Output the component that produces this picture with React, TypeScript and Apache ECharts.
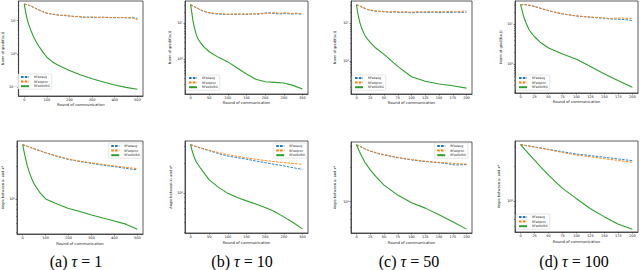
import React, { useEffect, useRef } from 'react';
import * as echarts from 'echarts';

// ---------- data ----------
const SERIES_NAMES = ['RFedavg', 'RFedprox', 'RFedSVRG'];
const TAUS = [1, 10, 50, 100];
const CAPTION_LETTERS = ['(a)', '(b)', '(c)', '(d)'];
const NORM_LABEL = 'Norm of grad(f(xₖ))';
const ANGLE_LABEL = 'Angle between xₖ and x*';
const X_LABEL = 'Round of communication';

const xTicks500 = [0, 100, 200, 300, 400, 500];
const xTicks300 = [0, 50, 100, 150, 200, 250, 300];
const xTicks200 = [0, 25, 50, 75, 100, 125, 150, 175, 200];
const yMinorTicks = [0.02, 0.03, 0.04, 0.05, 0.06, 0.07, 0.08, 0.09, 0.2, 0.3, 0.4, 0.5, 0.6, 0.7, 0.8, 0.9, 2, 3, 4, 5, 6, 7, 8, 9, 20, 30, 40, 50, 60, 70, 80, 90];

// top row, tau = 1
const t1Rounds = [0, 20, 40, 60, 80, 100, 120, 140, 160, 180, 200, 220, 240, 260, 280, 300, 320, 340, 360, 380, 400, 420, 440, 460, 480, 500];
const t1Avg = [31.6, 29, 25.5, 22, 19, 16.7, 15.8, 15, 14.6, 14.2, 13.8, 13.5, 13.2, 12.6, 12.9, 12.6, 12.4, 12.9, 12.5, 12.3, 12.6, 12.2, 12.5, 12.0, 12.3, 11.8];
const t1Prox = [31.6, 29.5, 25, 21.5, 18.6, 17.0, 16.1, 15.2, 14.4, 14.6, 14.0, 13.2, 13.6, 13.0, 12.4, 12.9, 12.7, 12.2, 12.8, 12.6, 12.2, 12.7, 12.3, 12.6, 11.9, 10.8];
const t1SvrgRounds = [0, 5, 10, 15, 20, 30, 40, 50, 60, 80, 100, 125, 150, 200, 250, 300, 350, 400, 450, 500];
const t1Svrg = [31.6, 20, 13.5, 9.8, 7.6, 5.0, 3.4, 2.5, 1.9, 1.2, 0.8, 0.58, 0.46, 0.32, 0.235, 0.18, 0.145, 0.117, 0.1, 0.088];

// top row, tau = 10
const t2Rounds = [0, 15, 30, 45, 60, 75, 90, 105, 120, 135, 150, 165, 180, 195, 210, 225, 240, 255, 270, 285, 300];
const t2Avg = [31.5, 26, 21.5, 19.2, 18.0, 17.4, 17.0, 17.2, 16.8, 17.4, 17.0, 17.6, 17.2, 18.4, 18.8, 18.0, 17.6, 18.2, 17.4, 17.8, 17.2];
const t2Prox = [31.5, 26.5, 22, 19.6, 18.4, 17.8, 17.6, 17.2, 17.8, 17.2, 17.8, 17.4, 18.0, 17.6, 18.4, 19.2, 18.2, 18.8, 18.0, 18.4, 17.6];
const t2SvrgRounds = [0, 3, 6, 10, 15, 20, 25, 35, 50, 75, 100, 125, 150, 175, 200, 225, 250, 275, 300];
const t2Svrg = [31.5, 20, 12, 7.5, 4.8, 3.6, 3.0, 2.2, 1.6, 1.12, 0.84, 0.57, 0.39, 0.28, 0.24, 0.23, 0.22, 0.19, 0.15];

// top row, tau = 50
const t3Rounds = [0, 10, 20, 30, 40, 50, 60, 70, 80, 90, 100, 110, 120, 130, 140, 150, 160, 170, 180, 190, 200];
const t3Avg = [31, 26.5, 23, 21.2, 20.6, 20.2, 19.6, 19.8, 19.2, 19.6, 19.0, 19.4, 19.6, 19.2, 19.8, 19.0, 19.6, 19.2, 19.8, 19.4, 19.6];
const t3Prox = [31, 27, 23.5, 21.6, 20.8, 20.6, 20.0, 20.4, 19.8, 20.2, 19.6, 20.2, 19.8, 20.4, 19.8, 20.4, 20.0, 20.6, 19.8, 20.8, 21.2];
const t3SvrgRounds = [0, 2, 4, 6, 10, 15, 20, 25, 35, 50, 75, 100, 125, 150, 175, 200];
const t3Svrg = [31, 20, 14, 10.5, 7.0, 4.8, 3.8, 3.1, 2.2, 1.5, 0.72, 0.38, 0.29, 0.245, 0.22, 0.19];

// top row, tau = 100
const t4Rounds = [0, 10, 20, 30, 40, 50, 60, 70, 80, 90, 100, 110, 120, 130, 140, 150, 160, 170, 180, 190, 200];
const t4Avg = [30.4, 30.2, 28.5, 26, 23.5, 21.5, 19.8, 18.4, 17.4, 16.6, 15.8, 15.4, 14.9, 14.6, 14.2, 13.9, 13.4, 13.2, 13.0, 12.8, 12.1];
const t4Prox = [30.4, 30.6, 28.8, 26.3, 23.8, 21.8, 20, 18.7, 17.6, 16.8, 16.0, 15.5, 15.2, 14.8, 14.5, 14.1, 13.6, 14.0, 14.2, 13.8, 13.9];
const t4SvrgRounds = [0, 2, 4, 6, 10, 15, 20, 25, 35, 50, 75, 100, 125, 150, 175, 200];
const t4Svrg = [30.4, 24, 18.5, 14.5, 10.4, 7.3, 5.8, 4.8, 3.5, 2.5, 1.78, 1.31, 0.86, 0.56, 0.38, 0.26];

// bottom row, tau = 1
const b1Rounds = [0, 50, 100, 150, 200, 250, 300, 350, 400, 450, 500];
const b1Avg = [3.12, 2.86, 2.63, 2.44, 2.29, 2.19, 2.11, 2.03, 1.97, 1.9, 1.84];
const b1Prox = [3.12, 2.87, 2.64, 2.46, 2.31, 2.21, 2.13, 2.06, 2.0, 1.94, 1.89];
const b1SvrgRounds = [0, 5, 10, 20, 30, 40, 50, 75, 100, 150, 200, 250, 300, 350, 400, 450, 500];
const b1Svrg = [3.12, 2.75, 2.45, 2.0, 1.72, 1.52, 1.37, 1.14, 1.0, 0.9, 0.82, 0.77, 0.715, 0.67, 0.63, 0.59, 0.53];

// bottom row, tau = 10
const b2Rounds = [0, 25, 50, 75, 100, 125, 150, 175, 200, 225, 250, 275, 300];
const b2Avg = [3.11, 2.88, 2.7, 2.52, 2.38, 2.29, 2.21, 2.12, 2.04, 1.96, 1.89, 1.81, 1.74];
const b2Prox = [3.11, 2.9, 2.73, 2.58, 2.46, 2.37, 2.28, 2.21, 2.14, 2.09, 2.04, 2.0, 1.96];
const b2SvrgRounds = [0, 3, 6, 10, 15, 25, 35, 50, 75, 100, 125, 150, 175, 200, 225, 250, 275, 300];
const b2Svrg = [3.11, 2.8, 2.55, 2.3, 2.08, 1.83, 1.62, 1.36, 1.14, 0.99, 0.9, 0.83, 0.77, 0.71, 0.645, 0.57, 0.5, 0.43];

// bottom row, tau = 50
const b3Rounds = [0, 20, 40, 60, 80, 100, 120, 140, 160, 180, 200];
const b3Avg = [3.1, 2.78, 2.59, 2.47, 2.37, 2.29, 2.23, 2.19, 2.14, 2.07, 2.09];
const b3Prox = [3.1, 2.79, 2.61, 2.49, 2.39, 2.31, 2.25, 2.2, 2.17, 2.13, 2.11];
const b3SvrgRounds = [0, 2, 5, 10, 15, 25, 35, 50, 75, 100, 125, 150, 175, 200];
const b3Svrg = [3.1, 2.95, 2.72, 2.44, 2.2, 1.88, 1.65, 1.39, 1.14, 0.98, 0.88, 0.77, 0.67, 0.58];

// bottom row, tau = 100
const b4Rounds = [0, 25, 50, 75, 100, 125, 150, 175, 200];
const b4Avg = [3.09, 2.95, 2.81, 2.68, 2.56, 2.48, 2.4, 2.32, 2.24];
const b4Prox = [3.09, 2.94, 2.79, 2.64, 2.51, 2.42, 2.33, 2.25, 2.17];
const b4SvrgRounds = [0, 5, 10, 15, 25, 35, 50, 75, 100, 125, 150, 175, 200];
const b4Svrg = [3.09, 2.9, 2.72, 2.56, 2.27, 2.0, 1.68, 1.29, 1.05, 0.86, 0.73, 0.63, 0.57];

// axis limits (y, data units) and major y tick labels
const yLimits = [
  [0.055, 39], [0.11, 39.8], [0.133, 38.9], [0.188, 37.6],
  [0.48, 3.37], [0.39, 3.39], [0.537, 3.27], [0.54, 3.32],
];
const yMajorTicks = [[0.1, 1, 10], [1, 10], [1, 10], [1, 10], [1], [1], [1], [1]];

// ---------- layout ----------
const GRIDS = [
  [17, 1, 126, 95], [185, 1, 123, 93], [351, 1, 121, 93], [515, 1, 123, 92],
  [17, 141, 126, 93], [185, 141, 123, 92], [351, 142, 121, 91], [515, 141, 123, 91],
];
const Y_NAME_GAP = [11, 13, 14, 12, 11, 12, 14, 14];
const X_NAME_GAP = [5, 5, 5, 5, 7, 7, 7, 7];
const LEGEND_POS: any[] = [
  { left: 18, top: 74 }, { left: 186, top: 75 }, { left: 352, top: 75 }, { left: 516, top: 75 },
  { right: 498, top: 143 }, { right: 333, top: 143 }, { right: 172, top: 143 }, { left: 516, top: 214 },
];
const CAPTION_X = [76, 242, 409, 574];
const CAPTION_Y = 261;

const COLORS = ['#1f77b4', '#ff7f0e', '#2ca02c'];
const AXIS_COLOR = '#333';
const FONT = 'DejaVu Sans';

const SUP: Record<string, string> = { '-': '⁻', '0': '⁰', '1': '¹', '2': '²', '3': '³', '4': '⁴', '5': '⁵', '6': '⁶', '7': '⁷', '8': '⁸', '9': '⁹' };
const pow10Label = (v: number) => {
  const e = Math.round(Math.log10(v));
  return '10' + String(e).split('').map((c) => SUP[c]).join('');
};

const zip = (xs: number[], ys: number[]) => xs.map((x, i) => [x, ys[i]]);

const panels = [
  { rounds: t1Rounds, avg: t1Avg, prox: t1Prox, sr: t1SvrgRounds, svrg: t1Svrg, xMax: 500, xTicks: xTicks500, yName: NORM_LABEL },
  { rounds: t2Rounds, avg: t2Avg, prox: t2Prox, sr: t2SvrgRounds, svrg: t2Svrg, xMax: 300, xTicks: xTicks300, yName: NORM_LABEL },
  { rounds: t3Rounds, avg: t3Avg, prox: t3Prox, sr: t3SvrgRounds, svrg: t3Svrg, xMax: 200, xTicks: xTicks200, yName: NORM_LABEL },
  { rounds: t4Rounds, avg: t4Avg, prox: t4Prox, sr: t4SvrgRounds, svrg: t4Svrg, xMax: 200, xTicks: xTicks200, yName: NORM_LABEL },
  { rounds: b1Rounds, avg: b1Avg, prox: b1Prox, sr: b1SvrgRounds, svrg: b1Svrg, xMax: 500, xTicks: xTicks500, yName: ANGLE_LABEL },
  { rounds: b2Rounds, avg: b2Avg, prox: b2Prox, sr: b2SvrgRounds, svrg: b2Svrg, xMax: 300, xTicks: xTicks300, yName: ANGLE_LABEL },
  { rounds: b3Rounds, avg: b3Avg, prox: b3Prox, sr: b3SvrgRounds, svrg: b3Svrg, xMax: 200, xTicks: xTicks200, yName: ANGLE_LABEL },
  { rounds: b4Rounds, avg: b4Avg, prox: b4Prox, sr: b4SvrgRounds, svrg: b4Svrg, xMax: 200, xTicks: xTicks200, yName: ANGLE_LABEL },
];

function buildOption() {
  const grid: any[] = [];
  const xAxis: any[] = [];
  const yAxis: any[] = [];
  const series: any[] = [];
  const legend: any[] = [];

  panels.forEach((p, i) => {
    const [l, t, w, h] = GRIDS[i];
    grid.push({ left: l, top: t, width: w, height: h, show: true, borderColor: AXIS_COLOR, borderWidth: 0.8, backgroundColor: '#fff' });
    xAxis.push({
      type: 'value', gridIndex: i, position: 'bottom', min: -0.05 * p.xMax, max: 1.05 * p.xMax,
      name: X_LABEL, nameLocation: 'middle', nameGap: X_NAME_GAP[i],
      nameTextStyle: { fontSize: 3.8, fontFamily: FONT, color: '#222' },
      axisLine: { show: true, onZero: false, lineStyle: { color: AXIS_COLOR, width: 0.8 } },
      axisTick: { show: true, length: 1.5, customValues: p.xTicks, lineStyle: { color: AXIS_COLOR, width: 0.6 } },
      axisLabel: { customValues: p.xTicks, fontSize: 3.5, fontFamily: FONT, color: '#222', margin: 2 },
      splitLine: { show: false },
    });
    const [yMin, yMax] = yLimits[i];
    yAxis.push({
      type: 'log', logBase: 10, gridIndex: i, position: 'left', min: yMin, max: yMax,
      name: p.yName, nameLocation: 'middle', nameGap: Y_NAME_GAP[i], nameRotate: 90,
      nameTextStyle: { fontSize: 3.5, fontFamily: FONT, color: '#222' },
      axisLine: { show: true, onZero: false, lineStyle: { color: AXIS_COLOR, width: 0.8 } },
      axisTick: { show: true, length: 1.5, customValues: yMajorTicks[i], lineStyle: { color: AXIS_COLOR, width: 0.6 } },
      axisLabel: { customValues: yMajorTicks[i], formatter: pow10Label, fontSize: 3.5, fontFamily: FONT, color: '#222', margin: 2 },
      splitLine: { show: false },
    });
    yAxis.push({
      type: 'log', logBase: 10, gridIndex: i, position: 'left', offset: 0, min: yMin, max: yMax,
      axisLine: { show: false, onZero: false },
      axisTick: { show: true, length: 0.9, customValues: yMinorTicks, lineStyle: { color: AXIS_COLOR, width: 0.5 } },
      axisLabel: { show: false },
      splitLine: { show: false },
    });
    const common = { type: 'line', xAxisIndex: i, yAxisIndex: 2 * i, symbol: 'none', showSymbol: false, clip: true, silent: true };
    series.push({ ...common, name: SERIES_NAMES[0], data: zip(p.rounds, p.avg), itemStyle: { color: COLORS[0] }, lineStyle: { color: COLORS[0], width: 0.9, type: [2.6, 1.2] }, z: 2 });
    series.push({ ...common, name: SERIES_NAMES[1], data: zip(p.rounds, p.prox), itemStyle: { color: COLORS[1] }, lineStyle: { color: COLORS[1], width: 0.9, type: [2.6, 1.2] }, z: 3 });
    series.push({ ...common, name: SERIES_NAMES[2], data: zip(p.sr, p.svrg), itemStyle: { color: COLORS[2] }, lineStyle: { color: COLORS[2], width: 1.1 }, z: 4 });
    legend.push({
      ...LEGEND_POS[i], orient: 'vertical', data: SERIES_NAMES, selectedMode: false,
      itemWidth: 8, itemHeight: 3, itemGap: 1.6, padding: [1.5, 2, 1.5, 2],
      backgroundColor: 'rgba(255,255,255,0.85)', borderColor: '#ccc', borderWidth: 0.5, borderRadius: 1,
      textStyle: { fontSize: 3, fontFamily: FONT, color: '#222' },
      itemStyle: { color: 'rgba(0,0,0,0)', borderWidth: 0, opacity: 0 },
    });
  });

  const graphic = TAUS.map((tau, k) => ({
    type: 'text', x: CAPTION_X[k], y: CAPTION_Y,
    style: {
      text: `${CAPTION_LETTERS[k]} {i|τ} = ${tau}`,
      rich: { i: { fontStyle: 'italic', fontFamily: 'Liberation Serif', fontSize: 16 } },
      fontFamily: 'Liberation Serif', fontSize: 16, fill: '#000',
      align: 'center', verticalAlign: 'middle',
    },
  }));

  return { animation: false, backgroundColor: '#fff', grid, xAxis, yAxis, series, legend, graphic };
}

export default function App() {
  const ref = useRef<HTMLDivElement>(null);
  useEffect(() => {
    if (!ref.current) return;
    const chart = echarts.init(ref.current, undefined, { renderer: 'svg' });
    chart.setOption(buildOption() as any);
    return () => chart.dispose();
  }, []);
  return <div ref={ref} style={{ position: 'fixed', left: 0, top: 0, width: 640, height: 270 }} />;
}
